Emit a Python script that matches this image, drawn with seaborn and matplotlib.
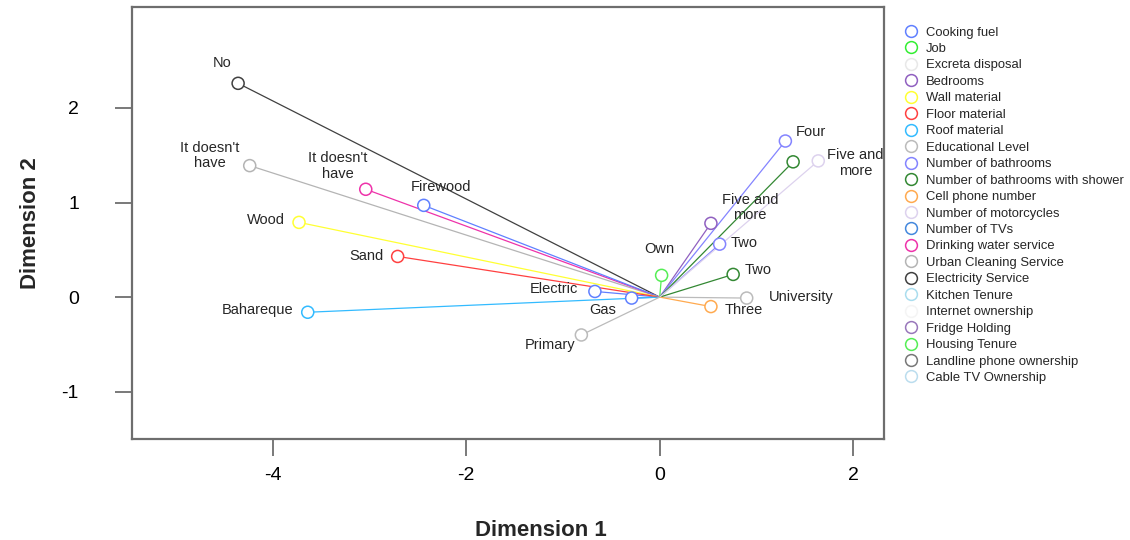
import matplotlib
matplotlib.use("Agg")
import matplotlib.pyplot as plt
from matplotlib.lines import Line2D
import seaborn as sns
import pandas as pd

# legend order / colours of the variables
variables = ["Cooking fuel", "Job", "Excreta disposal", "Bedrooms", "Wall material",
             "Floor material", "Roof material", "Educational Level", "Number of bathrooms",
             "Number of bathrooms with shower", "Cell phone number", "Number of motorcycles",
             "Number of TVs", "Drinking water service", "Urban Cleaning Service",
             "Electricity Service", "Kitchen Tenure", "Internet ownership", "Fridge Holding",
             "Housing Tenure", "Landline phone ownership", "Cable TV Ownership"]
colors = ["#6080ff", "#33ee33", "#e8e8e8", "#9060c0", "#ffff33",
          "#ff4040", "#33bbff", "#bbbbbb", "#8484ff",
          "#338833", "#ffaa50", "#ddd2ee",
          "#4488dd", "#ee33aa", "#b4b4b4",
          "#404040", "#aaddee", "#f4f4f4", "#9977bb",
          "#55ee55", "#777777", "#bbddee"]

# category points (dimension 1, dimension 2)
point_var = ["Electricity Service", "Urban Cleaning Service", "Drinking water service",
             "Cooking fuel", "Wall material", "Floor material", "Roof material",
             "Cooking fuel", "Cooking fuel", "Educational Level", "Housing Tenure",
             "Bedrooms", "Number of bathrooms", "Number of bathrooms with shower",
             "Cell phone number", "Educational Level", "Number of bathrooms",
             "Number of bathrooms with shower", "Number of motorcycles"]
point_label = ["No", "It doesn't\nhave", "It doesn't\nhave", "Firewood", "Wood", "Sand",
               "Bahareque", "Electric", "Gas", "Primary", "Own", "Five and\nmore", "Two",
               "Two", "Three", "University", "Four", "", "Five and\nmore"]
dim1 = [-4.36, -4.24, -3.04, -2.44, -3.73, -2.71, -3.64, -0.67, -0.29, -0.81, 0.02,
        0.53, 0.62, 0.76, 0.53, 0.90, 1.30, 1.38, 1.64]
dim2 = [2.26, 1.39, 1.14, 0.97, 0.79, 0.43, -0.16, 0.06, -0.01, -0.40, 0.23,
        0.78, 0.56, 0.24, -0.10, -0.01, 1.65, 1.43, 1.44]

# label offsets in pixels (dx, dy)
label_off = [(-16, 20), (-40, 10), (-28, 23), (17, 18), (-33, 2), (-31, 0), (-50, 2),
             (-41, 2), (-29, -12), (-31, -10), (-2, 26), (39, 16), (24, 1), (25, 4),
             (33, -3), (55, 1), (25, 9), (0, 0), (37, -2)]

palette = dict(zip(variables, colors))

pts = pd.DataFrame({"variable": point_var, "label": point_label, "x": dim1, "y": dim2})
rows = []
for i, r in pts.iterrows():
    rows.append({"pid": i, "variable": r["variable"], "x": 0.0, "y": 0.0})
    rows.append({"pid": i, "variable": r["variable"], "x": r["x"], "y": r["y"]})
seg = pd.DataFrame(rows)

sns.set_style("white")
plt.rcParams["font.family"] = ["Liberation Sans", "DejaVu Sans"]
plt.rcParams["axes.unicode_minus"] = False

fig = plt.figure(figsize=(11.3, 5.4), dpi=100)
ax = fig.add_axes([0.1166, 0.187, 0.7823 - 0.1166, 0.9876 - 0.187])

sns.lineplot(data=seg, x="x", y="y", hue="variable", units="pid", estimator=None,
             sort=False, palette=palette, linewidth=0.9, legend=False, ax=ax)
sns.scatterplot(data=pts, x="x", y="y", hue="variable", palette=palette, s=75,
                facecolor="white", linewidth=1.1, legend=False, ax=ax, zorder=3)
# open circles: edge in the variable colour
coll = ax.collections[-1]
coll.set_edgecolors([palette[v] for v in pts["variable"]])
coll.set_facecolors("white")

for i, r in pts.iterrows():
    if r["label"]:
        ax.annotate(r["label"], (r["x"], r["y"]), xytext=label_off[i],
                    textcoords="offset pixels", ha="center", va="center",
                    fontsize=10.5, color="#262626", linespacing=1.15)

ax.set_xlim(-5.46, 2.32)
ax.set_ylim(-1.50, 3.07)
ax.set_xticks([-4, -2, 0, 2])
ax.set_yticks([-1, 0, 1, 2])
for s in ax.spines.values():
    s.set_color("#6e6e6e")
    s.set_linewidth(1.6)
ax.tick_params(axis="both", direction="out", length=12, width=1.3, color="#6e6e6e",
               labelsize=14, labelcolor="black", left=True, bottom=True)
ax.tick_params(axis="x", pad=8)
ax.tick_params(axis="y", pad=26)

ax.set_xlabel("Dimension 1", fontsize=16, fontweight="bold")
ax.set_ylabel("Dimension 2", fontsize=16, fontweight="bold")
ax.xaxis.label.set_va("center")
ax.yaxis.label.set_va("center")
ax.xaxis.set_label_coords(0.544, -0.2127)
ax.yaxis.set_label_coords(-0.135, 0.5)

handles = [Line2D([], [], linestyle="", marker="o", markersize=8.5, markerfacecolor="white",
                  markeredgecolor=c, markeredgewidth=1.1) for c in colors]
fig.legend(handles, variables, loc="upper left", bbox_to_anchor=(0.8005, 0.951),
           frameon=False, fontsize=9.4, handlelength=1.0, handletextpad=0.65,
           labelspacing=0.33, borderaxespad=0, borderpad=0)

fig.savefig("out.png", dpi=100)
